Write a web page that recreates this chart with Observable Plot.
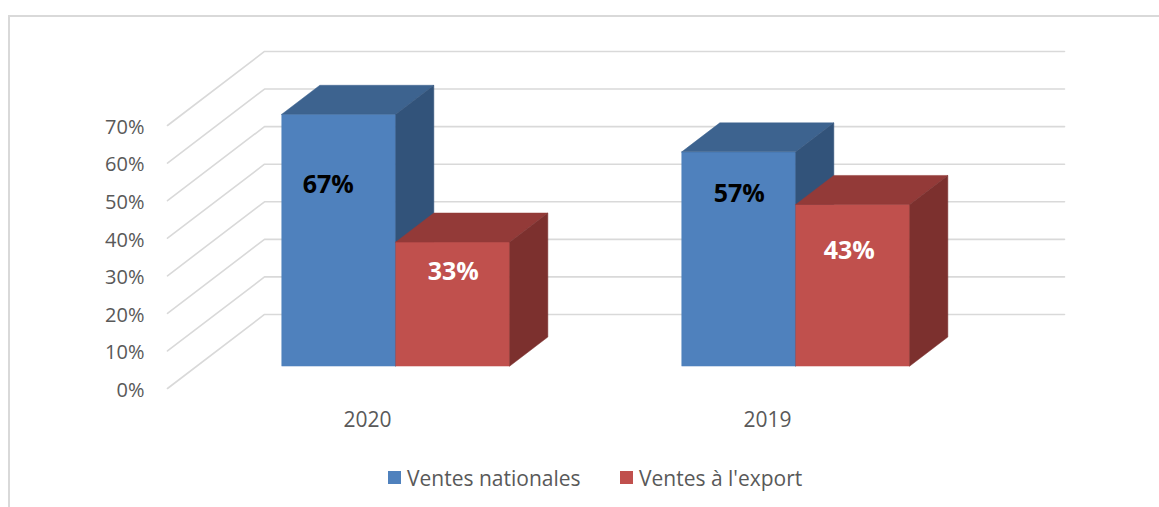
<!DOCTYPE html>
<html><head><meta charset="utf-8">
<script src="https://cdn.jsdelivr.net/npm/d3@7"></script>
<script src="https://cdn.jsdelivr.net/npm/@observablehq/plot@0.6"></script>
<style>
html,body{margin:0;padding:0;background:#fff;overflow:hidden;}
#wrap{position:relative;width:1159px;height:507px;}
#frame{position:absolute;left:8px;top:15px;width:1300px;height:600px;border-left:2px solid #d9d9d9;border-top:2px solid #d9d9d9;box-sizing:border-box;pointer-events:none;}
#chart{position:absolute;left:0;top:0;}
#legend{position:absolute;left:388px;top:461px;}
#legend .lg-swatches{display:flex;align-items:center;font-family:"Open Sans",sans-serif;font-size:21px;color:#595959;margin:0;}
#legend .lg-swatch{margin-right:0 !important;display:inline-flex;align-items:center;}
#legend .lg-swatch:first-of-type{width:232px;}
#legend .lg-swatch > svg{margin-right:6px !important;}
</style></head>
<body><div id="wrap"><div id="chart"></div><div id="legend"></div><div id="frame"></div></div>
<script>
// ---- data ----
const years = ["2020", "2019"];
const series = ["Ventes nationales", "Ventes à l'export"];
const nationales = [67, 57];
const exportVals = [33, 43];
const yTicks = [0, 10, 20, 30, 40, 50, 60, 70];

// ---- style ----
const frontColors = ["#4F81BD", "#C0504D"];
const topColors = ["#3D638F", "#933A38"];
const sideColors = ["#32537A", "#7C302E"];
const labelColors = ["#000000", "#FFFFFF"];
const gridColor = "#D9D9D9";
const textColor = "#595959";

// ---- 3D layout (oblique projection, in scale units) ----
const depthDX = 0.2425;  // x-units per unit of depth
const depthDY = 19.7;    // value-units per unit of depth
const barZ0 = 0.297, barZ1 = 0.689; // bar front / back depth
const barW = 0.285;                  // bar width in category units
// label nudges (px) per [year][series]
const labelNudge = [[[-11, 70], [0, 29]], [[0, 42], [-4, 46]]];

const values = [nationales, exportVals];
const bars = [];
years.forEach((yr, i) => {
  series.forEach((s, k) => {
    const v = values[k][i];
    const xa = i + 0.5 + (k - 1) * barW + barZ0 * depthDX;
    const xb = xa + barW;
    const z0 = barZ0 * depthDY;
    const d = (barZ1 - barZ0) * depthDX;
    const dd = (barZ1 - barZ0) * depthDY;
    bars.push({id: yr + "|" + s, year: yr, i, k, v, xa, xb, z0, d, dd, base: v + z0});
  });
});

function faceTop(b) {
  return [
    {id: b.id, x: b.xa, y1: b.base, y2: b.base},
    {id: b.id, x: b.xa + b.d, y1: b.base, y2: b.base + b.dd},
    {id: b.id, x: b.xb, y1: b.base, y2: b.base + b.dd},
    {id: b.id, x: b.xb + b.d, y1: b.base + b.dd, y2: b.base + b.dd}
  ];
}
function faceSide(b) {
  return [
    {id: b.id, x: b.xb, y1: b.z0, y2: b.base},
    {id: b.id, x: b.xb + b.d, y1: b.z0 + b.dd, y2: b.base + b.dd}
  ];
}

// gridlines: side wall (depth 0 -> 1 at x=0) then back wall (x 0 -> 2 at depth 1)
const grid = yTicks.flatMap(t => [
  {t, x: 0, y: t},
  {t, x: depthDX, y: t + depthDY},
  {t, x: 2 + depthDX, y: t + depthDY}
]);

const barMarks = [];
[0, 1].forEach(k => {
  const bk = bars.filter(b => b.k === k);
  barMarks.push(
    Plot.rect(bk, {x1: "xa", x2: "xb", y1: "z0", y2: "base", fill: frontColors[k], stroke: frontColors[k], strokeWidth: 0.5}),
    Plot.area(bk.flatMap(faceTop), {x1: "x", y1: "y1", y2: "y2", z: "id", fill: topColors[k], stroke: topColors[k], strokeWidth: 0.5}),
    Plot.area(bk.flatMap(faceSide), {x1: "x", y1: "y1", y2: "y2", z: "id", fill: sideColors[k], stroke: sideColors[k], strokeWidth: 0.5})
  );
});

const labelMarks = bars.map(b => Plot.text([b], {
  x: d => (d.xa + d.xb) / 2, y: "base", text: d => d.v + "%",
  dx: labelNudge[b.i][b.k][0], dy: labelNudge[b.i][b.k][1],
  fill: labelColors[b.k], fontWeight: "bold", fontSize: 25
}));

const chart = Plot.plot({
  width: 1159, height: 450,
  marginLeft: 167, marginTop: 0, marginRight: 0, marginBottom: 0,
  x: {domain: [0, 2], range: [167, 967], axis: null},
  y: {domain: [0, 70], range: [388, 125]},
  style: {fontFamily: "'Open Sans', sans-serif", background: "transparent", overflow: "visible"},
  marks: [
    Plot.line(grid, {x: "x", y: "y", z: "t", stroke: gridColor, strokeWidth: 1.6}),
    Plot.axisY({ticks: yTicks, tickSize: 0, tickPadding: 23, tickFormat: d => d + "%", fontSize: 20, color: textColor, dy: 2, label: null}),
    ...barMarks,
    ...labelMarks,
    Plot.text(years, {x: (d, i) => i + 0.5, y: 0, text: d => d, dy: 32, fontSize: 21, fill: textColor})
  ]
});
document.getElementById("chart").appendChild(chart);

const legend = Plot.legend({
  color: {type: "ordinal", domain: series, range: frontColors},
  legend: "swatches", swatchSize: 13, className: "lg",
  style: {fontSize: "21px", fontFamily: "'Open Sans', sans-serif", color: textColor}
});
document.getElementById("legend").appendChild(legend);
</script>
</body></html>
